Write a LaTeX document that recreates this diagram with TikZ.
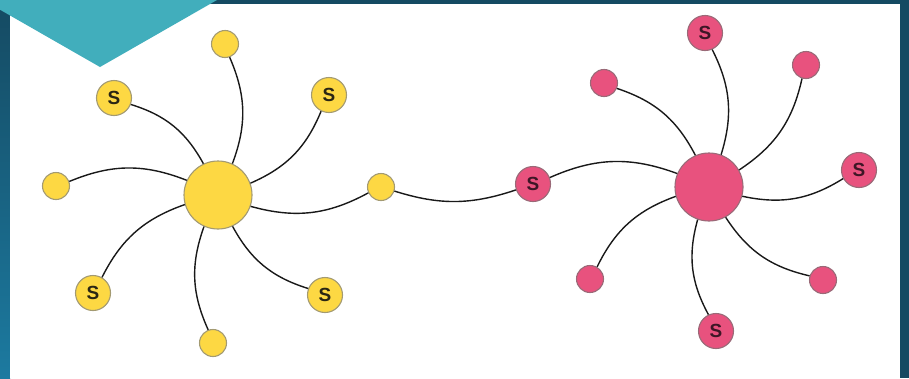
\documentclass[tikz,border=0pt]{standalone}
\usepackage{fontspec}
\setmainfont{Liberation Sans}
\definecolor{frame}{HTML}{154A62}
\definecolor{framelight}{HTML}{1C7AA0}
\definecolor{teal}{HTML}{41AEBC}
\definecolor{sun}{HTML}{FDD843}
\definecolor{sunrim}{HTML}{A39A72}
\definecolor{rose}{HTML}{E8527E}
\definecolor{roserim}{HTML}{9A6A78}
\definecolor{sunink}{HTML}{2A2614}
\definecolor{roseink}{HTML}{3E1626}
\tikzset{
  dot/.style={circle, minimum size=27pt, inner sep=0pt, line width=1.1pt},
  sdot/.style={circle, minimum size=35pt, inner sep=0pt, line width=1.1pt,
    font=\fontsize{19}{19}\selectfont\bfseries},
  hub/.style={circle, minimum size=68pt, inner sep=0pt, line width=1.1pt},
  yel/.style={fill=sun, draw=sunrim, text=sunink},
  pnk/.style={fill=rose, draw=roserim, text=roseink},
  link/.style={draw=black!90, line width=1.4pt, bend right=#1},
  link/.default=22
}
\begin{document}
\begin{tikzpicture}[x=1pt, y=-1pt]
  \useasboundingbox (0,0) rectangle (909,378);
  % frame and panel
  \fill[frame] (0,0) rectangle (909,378);
  \shade[top color=frame, bottom color=framelight] (0,0) rectangle (10,378);
  \fill[white] (10,4) rectangle (900,378);
  \fill[teal] (-17,0) -- (217,0) -- (100,67) -- cycle;

  % yellow cluster
  \node[hub, yel] (yh) at (218,195) {};
  \node[dot, yel] (y1) at (225,44) {};
  \node[sdot, yel] (y2) at (114,98) {S};
  \node[sdot, yel] (y3) at (329,95) {S};
  \node[dot, yel] (y4) at (56,186) {};
  \node[sdot, yel] (y5) at (93,293) {S};
  \node[dot, yel] (y6) at (213,343) {};
  \node[sdot, yel] (y7) at (325,295) {S};
  \node[dot, yel] (y8) at (381,187) {};

  % pink cluster
  \node[hub, pnk] (ph) at (709,187) {};
  \node[sdot, pnk] (p1) at (705,33) {S};
  \node[dot, pnk] (p2) at (604,83) {};
  \node[dot, pnk] (p3) at (806,65) {};
  \node[sdot, pnk] (p4) at (859,170) {S};
  \node[dot, pnk] (p5) at (823,280) {};
  \node[sdot, pnk] (p6) at (716,331) {S};
  \node[dot, pnk] (p7) at (590,279) {};
  \node[sdot, pnk] (p8) at (533,184) {S};

  % spokes
  \foreach \s in {y1,y2,y3,y4,y5,y6,y7,y8}
    \draw[link] (yh) to (\s);
  \foreach \s in {p1,p2,p3,p4,p5,p6,p7,p8}
    \draw[link] (ph) to (\s);
  % bridge between the clusters
  \draw[link=18] (y8) to (p8);
\end{tikzpicture}
\end{document}
